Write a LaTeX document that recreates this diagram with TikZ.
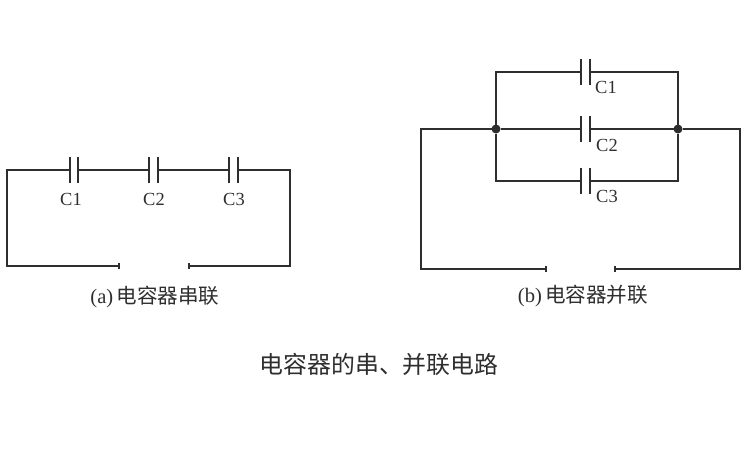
\documentclass[tikz,border=0pt]{standalone}
\usepackage{fontspec}
\usetikzlibrary{arrows.meta}
\setmainfont{Liberation Serif}
\newfontfamily\cjk{Noto Sans CJK SC}
\definecolor{ink}{gray}{0.18}
\begin{document}
\begin{tikzpicture}[x=0.02cm, y=-0.02cm, ink, line width=0.8pt,
plate node/.style={rectangle,fill=ink,minimum width=1.1pt,minimum height=0.52cm,inner sep=0pt,outer sep=0pt},
dot node/.style={circle,fill=ink,minimum size=0.18cm,inner sep=0pt,outer sep=0pt},
label node/.style={font=\fontsize{10.5pt}{12pt}\selectfont},
caption node/.style={font=\fontsize{11.7pt}{13pt}\selectfont},
gap end/.style={-{Bar[width=3pt,line width=0.9pt]}}]
\useasboundingbox (0,0) rectangle (750,450);
% (a) series
\coordinate (atl) at (7,170);
\coordinate (atr) at (290,170);
\coordinate (abl) at (7,266);
\coordinate (abr) at (290,266);
\coordinate (agl) at (120,266);
\coordinate (agr) at (188,266);
\begin{scope}
\node[plate node] (a1l) at (70,170) {};
\node[plate node] (a1r) at (78,170) {};
\node[plate node] (a2l) at (149,170) {};
\node[plate node] (a2r) at (158,170) {};
\node[plate node] (a3l) at (229,170) {};
\node[plate node] (a3r) at (238,170) {};
\end{scope}
\begin{scope}[every node/.style={label node}]
\node (a1t) at (71,199) {C1};
\node (a2t) at (154,199) {C2};
\node (a3t) at (234,199) {C3};
\end{scope}
\draw[gap end] (a1l) -- (atl) -- (abl) -- (agl);
\draw (a1r) -- (a2l);
\draw (a2r) -- (a3l);
\draw[gap end] (a3r) -- (atr) -- (abr) -- (agr);
\node[caption node] (acap) at (155,297) {(a)\,{\cjk 电容器串联}};
% (b) parallel
\node[dot node] (jl) at (496,129) {};
\node[dot node] (jr) at (678,129) {};
\coordinate (btl) at (496,72);
\coordinate (btr) at (678,72);
\coordinate (bul) at (496,181);
\coordinate (bur) at (678,181);
\coordinate (bol) at (421,129);
\coordinate (bor) at (740,129);
\coordinate (bbl) at (421,269);
\coordinate (bbr) at (740,269);
\coordinate (bgl) at (547,269);
\coordinate (bgr) at (614,269);
\begin{scope}
\node[plate node] (b1l) at (581,72) {};
\node[plate node] (b1r) at (590,72) {};
\node[plate node] (b2l) at (581,129) {};
\node[plate node] (b2r) at (590,129) {};
\node[plate node] (b3l) at (581,181) {};
\node[plate node] (b3r) at (590,181) {};
\end{scope}
\begin{scope}[every node/.style={label node}]
\node (b1t) at (606,87) {C1};
\node (b2t) at (607,145) {C2};
\node (b3t) at (607,196) {C3};
\end{scope}
\draw (b1l) -- (btl) -- (jl);
\draw (b1r) -- (btr) -- (jr);
\draw (jl) -- (b2l);
\draw (b2r) -- (jr);
\draw (b3l) -- (bul) -- (jl);
\draw (b3r) -- (bur) -- (jr);
\draw[gap end] (jl) -- (bol) -- (bbl) -- (bgl);
\draw[gap end] (jr) -- (bor) -- (bbr) -- (bgr);
\node[caption node] (bcap) at (583,296) {(b)\,{\cjk 电容器并联}};
% title
\node[font=\fontsize{13.6pt}{16pt}\selectfont\cjk] (title) at (379,364) {电容器的串、并联电路};
\end{tikzpicture}
\end{document}
